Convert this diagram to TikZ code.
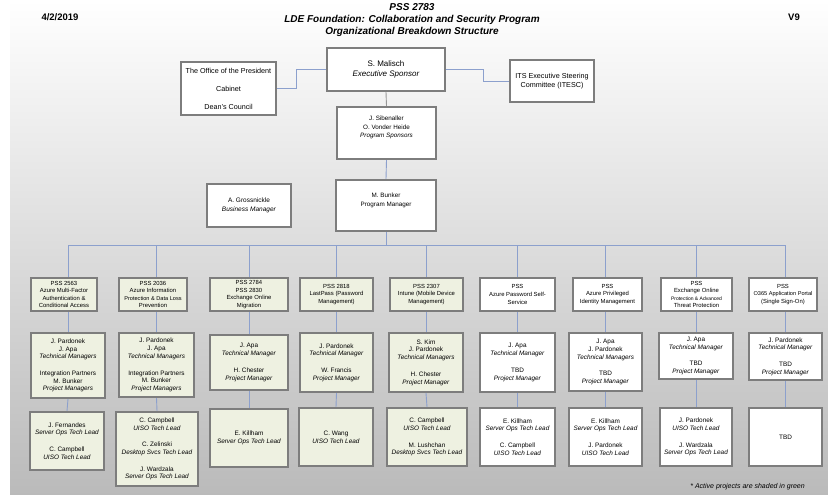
\documentclass[tikz,border=0pt]{standalone}
\usepackage{fontspec}
\setmainfont{Liberation Sans}
\pgfdeclarelayer{bg}
\pgfdeclarelayer{lines}
\pgfsetlayers{bg,lines,main}
\definecolor{bord}{RGB}{125,125,125}
\definecolor{grn}{RGB}{238,241,225}
\definecolor{lnk}{RGB}{140,160,205}
\definecolor{lnkgray}{RGB}{150,150,150}
\newcommand\fs[2]{\fontsize{#1}{#2}\selectfont}
\tikzset{
 box/.style={draw=bord, line width=2.2pt, fill=white, align=center, inner sep=1pt, font=\fs{6.4}{7.7}},
 gbox/.style={box, fill=grn},
 hbox/.style={box, inner sep=0pt, font=\fs{5.9}{7.6}},
 ghbox/.style={hbox, fill=grn},
 conn/.style={draw=lnk, line width=0.9pt},
 lbl/.style={inner sep=0pt, align=center},
}
\newcommand\bx[7]{%
 \pgfmathsetmacro\myw{#5-#3-2}\pgfmathsetmacro\myh{#6-#4-2}%
 \pgfmathsetmacro\mycx{(#3+#5)/2}\pgfmathsetmacro\mycy{(#4+#6)/2}%
 \node[#2, minimum width=\myw pt, minimum height=\myh pt] (#1) at (\mycx,\mycy) {#7};}
\begin{document}
\begin{tikzpicture}[x=1pt,y=-1pt]
\useasboundingbox (0,0) rectangle (828,495);
\begin{pgfonlayer}{bg}
\fill[white] (0,0) rectangle (828,495);
\shade[top color=white, middle color=black!7, bottom color=black!27] (10,0) rectangle (828,495);
\end{pgfonlayer}

% header
\node[lbl, font=\bfseries\fs{9.5}{11}] (date) at (60,17) {4/2/2019};
\node[lbl, font=\bfseries\itshape\fs{10}{12}] (title) at (412,20) {PSS 2783\\LDE Foundation: Collaboration and Security Program\\Organizational Breakdown Structure};
\node[lbl, font=\bfseries\fs{9.5}{11}] (ver) at (794,17) {V9};

% top level
\bx{office}{box, font=\fs{7.2}{9}}{180}{61}{277}{116}{The Office of the President\\[9pt]Cabinet\\[9pt]Dean's Council}
\bx{malisch}{box, font=\fs{8}{10}}{326}{47}{446}{92}{S. Malisch\\\textit{Executive Sponsor}}
\bx{its}{box, font=\fs{7.2}{8.5}}{509}{59}{595}{103}{ITS Executive Steering\\Committee (ITESC)}
\bx{sponsors}{box, font=\fs{6.3}{8.3}}{336}{106}{437}{160}{J. Sibenaller\\O. Vonder Heide\\\textit{Program Sponsors}\\[4pt]}
\bx{gross}{box, font=\fs{6.5}{9}}{206}{183}{292}{228}{A. Grossnickle\\\textit{Business Manager}}
\bx{bunker}{box, font=\fs{6.3}{9}}{335}{179}{437}{232}{M. Bunker\\Program Manager\\[3pt]}

% project headers
\bx{t1}{ghbox}{30}{277}{98}{312}{PSS 2563\\Azure Multi-Factor\\Authentication \&\\Conditional Access}
\bx{t2}{ghbox}{118}{277}{188}{312}{PSS 2036\\Azure Information\\{\fs{5.6}{7.6}Protection \& Data Loss}\\Prevention}
\bx{t3}{ghbox}{209}{277}{289}{312}{PSS 2784\\PSS 2830\\Exchange Online\\Migration}
\bx{t4}{ghbox}{299}{277}{374}{312}{PSS 2818\\LastPass (Password\\Management)}
\bx{t5}{ghbox}{389}{277}{464}{312}{PSS 2307\\Intune (Mobile Device\\Management)}
\bx{t6}{hbox}{479}{277}{556}{312}{PSS\\Azure Password Self-\\Service}
\bx{t7}{hbox}{572}{277}{643}{312}{PSS\\Azure Privileged\\Identity Management}
\bx{t8}{hbox}{660}{277}{733}{312}{PSS\\Exchange Online\\{\fs{5}{7.6}Protection \& Advanced}\\Threat Protection}
\bx{t9}{hbox}{748}{277}{818}{312}{PSS\\{\fs{5.6}{7.6}O365 Application Portal}\\(Single Sign-On)}

% managers
\bx{m1}{gbox}{30}{332}{106}{399}{J. Pardonek\\J. Apa\\\textit{Technical Managers}\\[9pt]Integration Partners\\M. Bunker\\\textit{Project Managers}}
\bx{m2}{gbox}{118}{332}{195}{398}{J. Pardonek\\J. Apa\\\textit{Technical Managers}\\[9pt]Integration Partners\\M. Bunker\\\textit{Project Managers}}
\bx{m3}{gbox}{209}{334}{289}{391}{J. Apa\\\textit{Technical Manager}\\[9pt]H. Chester\\\textit{Project Manager}}
\bx{m4}{gbox}{299}{332}{374}{393}{J. Pardonek\\\textit{Technical Manager}\\[9pt]W. Francis\\\textit{Project Manager}}
\bx{m5}{gbox}{388}{332}{464}{393}{S. Kim\\J. Pardonek\\\textit{Technical Managers}\\[9pt]H. Chester\\\textit{Project Manager}}
\bx{m6}{box}{479}{332}{556}{393}{J. Apa\\\textit{Technical Manager}\\[9pt]TBD\\\textit{Project Manager}}
\bx{m7}{box}{568}{332}{643}{392}{J. Apa\\J. Pardonek\\\textit{Technical Managers}\\[9pt]TBD\\\textit{Project Manager}}
\bx{m8}{box}{658}{332}{734}{380}{J. Apa\\\textit{Technical Manager}\\[9pt]TBD\\\textit{Project Manager}}
\bx{m9}{box}{748}{332}{823}{381}{J. Pardonek\\\textit{Technical Manager}\\[9pt]TBD\\\textit{Project Manager}}

% tech leads
\bx{b1}{gbox}{29}{411}{105}{471}{J. Fernandes\\\textit{Server Ops Tech Lead}\\[9pt]C. Campbell\\\textit{UISO Tech Lead}}
\bx{b2}{gbox}{115}{411}{199}{487}{C. Campbell\\\textit{UISO Tech Lead}\\[9pt]C. Zelinski\\\textit{Desktop Svcs Tech Lead}\\[9pt]J. Wardzala\\\textit{Server Ops Tech Lead}}
\bx{b3}{gbox}{209}{408}{289}{468}{E. Killham\\\textit{Server Ops Tech Lead}}
\bx{b4}{gbox}{298}{407}{374}{467}{C. Wang\\\textit{UISO Tech Lead}}
\bx{b5}{gbox}{386}{407}{468}{467}{C. Campbell\\\textit{UISO Tech Lead}\\[9pt]M. Lushchan\\\textit{Desktop Svcs Tech Lead}}
\bx{b6}{box}{479}{407}{556}{467}{E. Killham\\\textit{Server Ops Tech Lead}\\[9pt]C. Campbell\\\textit{UISO Tech Lead}}
\bx{b7}{box}{568}{407}{643}{467}{E. Killham\\\textit{Server Ops Tech Lead}\\[9pt]J. Pardonek\\\textit{UISO Tech Lead}}
\bx{b8}{box}{659}{407}{733}{467}{J. Pardonek\\\textit{UISO Tech Lead}\\[9pt]J. Wardzala\\\textit{Server Ops Tech Lead}}
\bx{b9}{box}{748}{407}{823}{467}{TBD}

\node[lbl, anchor=east, font=\itshape\fs{7}{8}] (note) at (805,487) {* Active projects are shaded in green};

\coordinate (bus) at (386,245);
\begin{pgfonlayer}{lines}
\draw[conn] (office.east) -- ++(19,0) |- (malisch.west);
\draw[conn] (malisch.east) -- ++(37,0) |- (its.west);
\draw[draw=lnkgray, line width=0.9pt] (malisch.south) -- (sponsors.north);
\draw[conn] (sponsors.south) -- (bunker.north);
\draw[conn] (bunker.south) -- (bunker.south |- bus);
\draw[conn] (m1.north |- bus) -- (m9.north |- bus);
\foreach \k in {1,...,9}{
  \draw[conn] (m\k.north |- bus) -- (m\k.north);
  \draw[conn] (m\k.south) -- (b\k.north);
}
\end{pgfonlayer}
\end{tikzpicture}
\end{document}
